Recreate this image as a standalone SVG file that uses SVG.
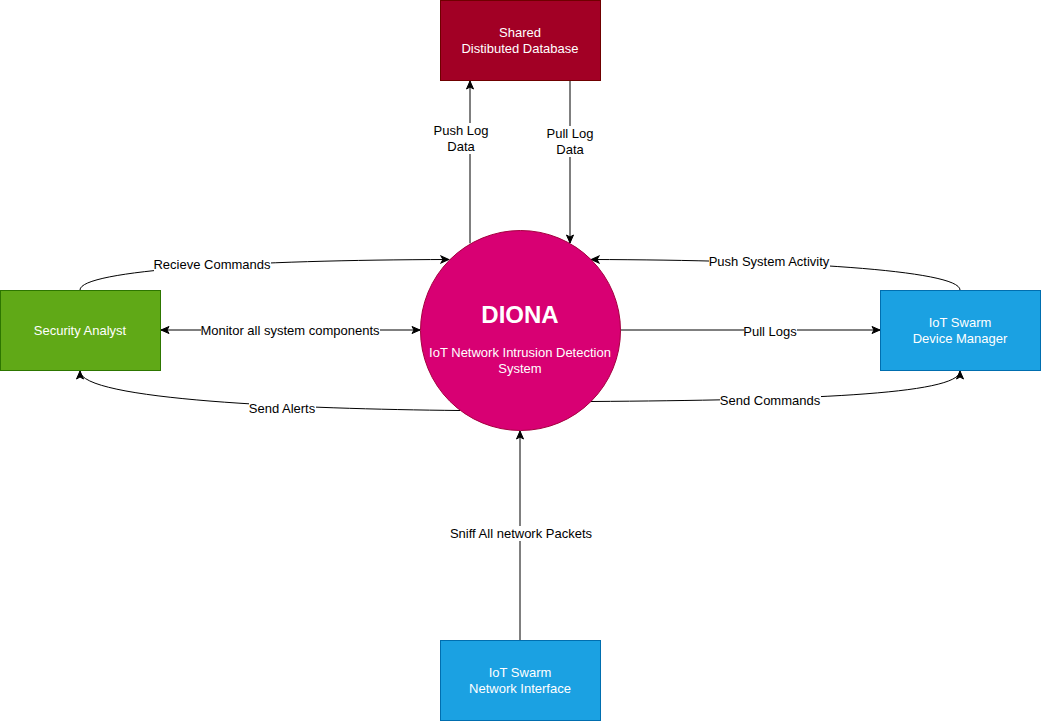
<svg xmlns="http://www.w3.org/2000/svg" width="1041" height="721" viewBox="0 0 1041 721">
<style>
text{font-family:"Liberation Sans",Arial,Helvetica,sans-serif;font-size:13px;text-anchor:middle}
.nt{fill:#ffffff}
.lt{fill:#000000}
.e{fill:none;stroke:#000000;stroke-width:1}
.bg{fill:#ffffff}
</style>
<defs>
<marker id="ah" markerUnits="userSpaceOnUse" markerWidth="10" markerHeight="9" viewBox="0 0 10 9" refX="9" refY="4.5" orient="auto-start-reverse">
<path d="M1,1 L9,4.5 L1,8 L3,4.5 Z" fill="#000000" stroke="#000000" stroke-width="1"/>
</marker>
</defs>
<rect width="1041" height="721" fill="#ffffff"/>
<g id="connectors">
<g id="e-pushlog">
<path class="e" d="M470,243.4 L470,81" marker-end="url(#ah)"/>
<rect class="bg" x="433" y="123" width="57" height="31"/>
<text class="lt" x="461" y="134.5">Push Log</text>
<text class="lt" x="461" y="150.5">Data</text>
</g>
<g id="e-pulllog">
<path class="e" d="M570,80 L570,243" marker-end="url(#ah)"/>
<rect class="bg" x="545" y="126" width="50" height="31"/>
<text class="lt" x="570" y="137.5">Pull Log</text>
<text class="lt" x="570" y="153.5">Data</text>
</g>
<g id="e-recieve">
<path class="e" d="M80,290 C80,270 250,260 449,259.5" marker-end="url(#ah)"/>
<rect class="bg" x="154" y="257" width="117" height="15"/>
<text class="lt" x="212" y="268.5">Recieve Commands</text>
</g>
<g id="e-monitor">
<path class="e" d="M161,330 L420,330" marker-start="url(#ah)" marker-end="url(#ah)"/>
<rect class="bg" x="201" y="323" width="179" height="15"/>
<text class="lt" x="290" y="334.5">Monitor all system components</text>
</g>
<g id="e-alerts">
<path class="e" d="M460,410.5 C300,409 80,400 80,371" marker-end="url(#ah)"/>
<rect class="bg" x="249" y="401" width="67" height="15"/>
<text class="lt" x="282" y="412.5">Send Alerts</text>
</g>
<g id="e-pushsys">
<path class="e" d="M960,290 C960,270 790,260 591,259.5" marker-end="url(#ah)"/>
<rect class="bg" x="709" y="254" width="121" height="15"/>
<text class="lt" x="769" y="265.5">Push System Activity</text>
</g>
<g id="e-pulllogs">
<path class="e" d="M620,330 L880,330" marker-end="url(#ah)"/>
<rect class="bg" x="744" y="324" width="53" height="15"/>
<text class="lt" x="770" y="335.5">Pull Logs</text>
</g>
<g id="e-sendcmd">
<path class="e" d="M591,401.5 C800,400 960,395 960,371" marker-end="url(#ah)"/>
<rect class="bg" x="720" y="393" width="101" height="15"/>
<text class="lt" x="770" y="404.5">Send Commands</text>
</g>
<g id="e-sniff">
<path class="e" d="M520,640 L520,431" marker-end="url(#ah)"/>
<rect class="bg" x="450" y="526" width="143" height="15"/>
<text class="lt" x="521" y="537.5">Sniff All network Packets</text>
</g>
</g>
<g id="n-db">
<rect x="440.5" y="0.5" width="160" height="80" fill="#a20025" stroke="#6f0000"/>
<text class="nt" x="520" y="36.5">Shared</text>
<text class="nt" x="520" y="52.5">Distibuted Database</text>
</g>
<g id="n-analyst">
<rect x="0.5" y="290.5" width="160" height="80" fill="#60a917" stroke="#2d7600"/>
<text class="nt" x="80" y="334.5">Security Analyst</text>
</g>
<g id="n-manager">
<rect x="880.5" y="290.5" width="160" height="80" fill="#1ba1e2" stroke="#006eaf"/>
<text class="nt" x="960" y="326.5">IoT Swarm</text>
<text class="nt" x="960" y="342.5">Device Manager</text>
</g>
<g id="n-netif">
<rect x="440.5" y="640.5" width="160" height="80" fill="#1ba1e2" stroke="#006eaf"/>
<text class="nt" x="520" y="676.5">IoT Swarm</text>
<text class="nt" x="520" y="692.5">Network Interface</text>
</g>
<g id="n-diona">
<circle cx="520.5" cy="330.5" r="100" fill="#d80073" stroke="#a50040"/>
<text class="nt" x="520" y="323" style="font-size:24px;font-weight:bold">DIONA</text>
<text class="nt" x="520" y="356.5">IoT Network Intrusion Detection</text>
<text class="nt" x="520" y="372.5">System</text>
</g>
</svg>
